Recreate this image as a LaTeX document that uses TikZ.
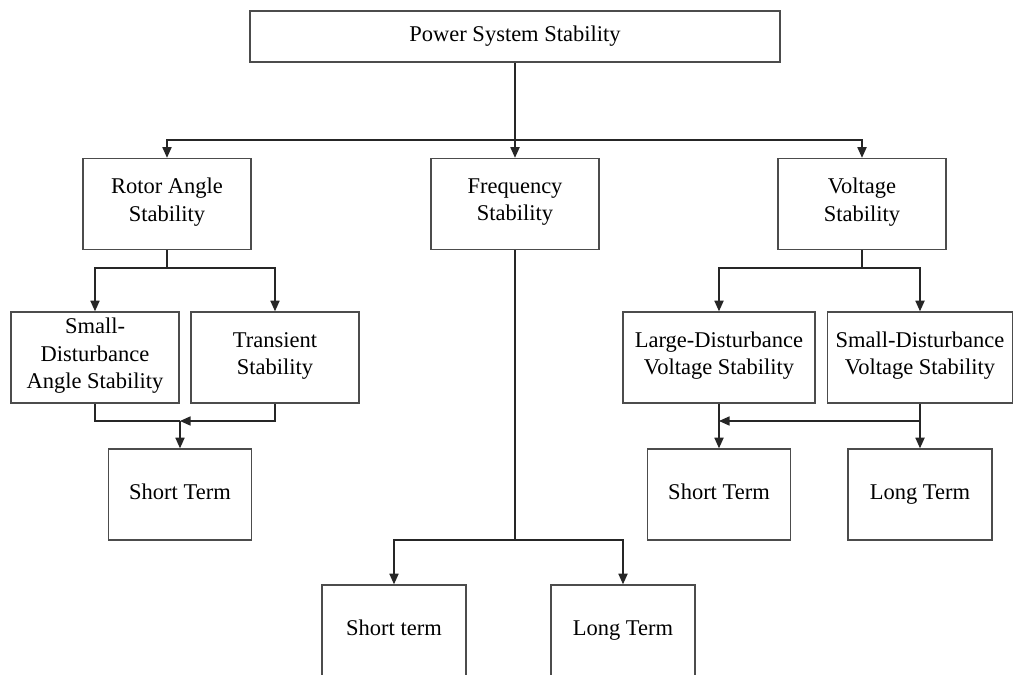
\documentclass[tikz,border=0pt]{standalone}
\usepackage{fontspec}
\setmainfont{Liberation Serif}
\usetikzlibrary{arrows.meta}
\begin{document}
\begin{tikzpicture}[
        x=0.025cm, y=-0.025cm,
        block/.style={draw=black!70, line width=1pt, fill=white, align=center,
                      inner sep=1pt, minimum height=2.275cm,
                      font=\fontsize{16}{19.5}\selectfont,
                      execute at begin node=\strut, execute at end node=\strut},
        link/.style={draw=black!85, line width=0.9pt},
        arr/.style={link, -{Triangle[length=7.5pt,width=6.5pt]}},
    ]
    \useasboundingbox (0,0) rectangle (1013,675);

    % top level
    \node[block, minimum width=13.25cm, minimum height=1.275cm] (pss) at (515,36.5)
        {Power System Stability};

    % second level
    \node[block, minimum width=4.2cm] (rotor) at (167,204) {Rotor Angle\\Stability};
    \node[block, minimum width=4.2cm] (freq) at (515,204) {Frequency\\Stability};
    \node[block, minimum width=4.2cm] (volt) at (862,204) {Voltage\\Stability};

    % rotor angle branch
    \node[block, minimum width=4.2cm] (sdas) at (95,357.5)
        {Small-\\Disturbance\\Angle Stability};
    \node[block, minimum width=4.2cm] (trans) at (275,357.5) {Transient\\Stability};
    \node[block, minimum width=3.575cm] (stl) at (180,494.5) {Short Term};

    % voltage branch
    \node[block, minimum width=4.8cm] (ldvs) at (719,357.5)
        {Large-Disturbance\\Voltage Stability};
    \node[block, minimum width=4.625cm] (sdvs) at (920,357.5)
        {Small-Disturbance\\Voltage Stability};
    \node[block, minimum width=3.575cm] (str) at (719,494.5) {Short Term};
    \node[block, minimum width=3.6cm] (ltr) at (920,494.5) {Long Term};

    % frequency branch
    \node[block, minimum width=3.6cm] (stb) at (394,630.5) {Short term};
    \node[block, minimum width=3.6cm] (ltb) at (623,630.5) {Long Term};

    % connectors
    \coordinate (top) at (515,140);
    \draw[link] (pss.south) -- (top);
    \draw[arr] (top) -| (rotor.north);
    \draw[arr] (top) -- (freq.north);
    \draw[arr] (top) -| (volt.north);

    \coordinate (rj) at (167,268);
    \draw[link] (rotor.south) -- (rj);
    \draw[arr] (rj) -| (sdas.north);
    \draw[arr] (rj) -| (trans.north);

    \coordinate (lj) at (180,421);
    \draw[link] (sdas.south) |- (lj);
    \draw[arr] (trans.south) |- (lj);
    \draw[arr] (lj) -- (stl.north);

    \coordinate (fj) at (515,540);
    \draw[link] (freq.south) -- (fj);
    \draw[arr] (fj) -| (stb.north);
    \draw[arr] (fj) -| (ltb.north);

    \coordinate (vj) at (862,268);
    \draw[link] (volt.south) -- (vj);
    \draw[arr] (vj) -| (ldvs.north);
    \draw[arr] (vj) -| (sdvs.north);

    \coordinate (vm) at (920,421);
    \coordinate (vl) at (719,421);
    \draw[arr] (ldvs.south) -- (str.north);
    \draw[arr] (sdvs.south) -- (ltr.north);
    \draw[arr] (vm) -- (vl);
\end{tikzpicture}
\end{document}
